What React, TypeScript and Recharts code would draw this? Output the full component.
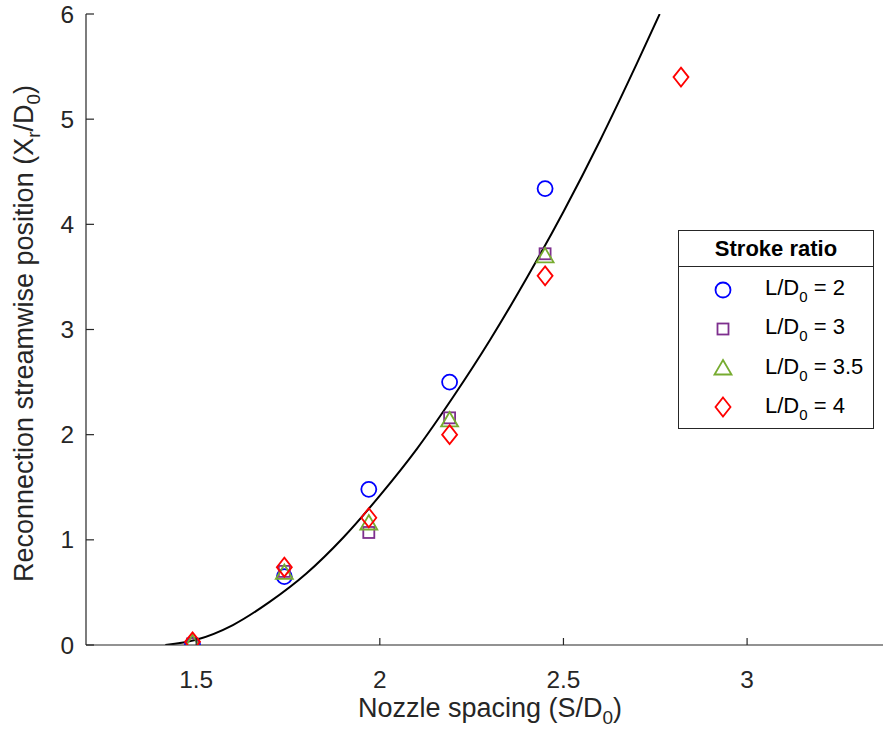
import { ComposedChart, Scatter, Line, XAxis, YAxis, Label } from "recharts"

const FONT = '"Liberation Sans", Arial, Helvetica, sans-serif'
const AXIS = "#262626"
const BLUE = "#0000ff"
const PURPLE = "#7e2f8e"
const GREEN = "#77ac30"
const RED = "#ff0000"

// nozzle spacing S/D0 where the runs were made
const spacing = [1.49, 1.74, 1.97, 2.19, 2.45]
const spacingLong = [1.49, 1.74, 1.97, 2.19, 2.45, 2.82]

// reconnection position Xr/D0 per stroke ratio
const ratio2 = [0.0, 0.65, 1.48, 2.5, 4.34]
const ratio3 = [0.01, 0.7, 1.07, 2.16, 3.72]
const ratio35 = [0.02, 0.69, 1.16, 2.14, 3.7]
const ratio4 = [0.03, 0.74, 1.21, 2.0, 3.51, 5.4]

// fitted curve
const fitX = [1.416, 1.5, 1.6, 1.7, 1.8, 1.9, 2.0, 2.1, 2.2, 2.3, 2.4, 2.5, 2.6, 2.7, 2.762]
const fitY = [0, 0.05, 0.19, 0.41, 0.68, 1.02, 1.42, 1.86, 2.36, 2.9, 3.49, 4.12, 4.8, 5.53, 6.0]

const xTicks = [1.5, 2, 2.5, 3]
const yTicks = [0, 1, 2, 3, 4, 5, 6]

const X_MARGIN = 26
const Y_MARGIN = 12
const TICK_LEN = 7

const toPoints = (xs: number[], ys: number[]) => ys.map((y, i) => ({ x: xs[i], y }))

const Circle = ({ cx, cy }: any) => (
  <circle cx={cx} cy={cy} r={7.5} fill="none" stroke={BLUE} strokeWidth={1.8} />
)
const Square = ({ cx, cy }: any) => (
  <rect x={cx - 5.5} y={cy - 5.5} width={11} height={11} fill="none" stroke={PURPLE} strokeWidth={1.8} />
)
const Triangle = ({ cx, cy }: any) => (
  <path d={`M${cx},${cy - 8} L${cx + 8.5},${cy + 6.5} L${cx - 8.5},${cy + 6.5} Z`} fill="none" stroke={GREEN} strokeWidth={1.8} />
)
const Diamond = ({ cx, cy }: any) => (
  <path d={`M${cx},${cy - 9.5} L${cx + 7.5},${cy} L${cx},${cy + 9.5} L${cx - 7.5},${cy} Z`} fill="none" stroke={RED} strokeWidth={1.8} />
)

const legendItems = [
  { label: "2", Icon: Circle },
  { label: "3", Icon: Square },
  { label: "3.5", Icon: Triangle },
  { label: "4", Icon: Diamond },
]

// MATLAB style ticks: short marks pointing into the plot
const XTick = ({ x, y, payload }: any) => {
  const axisY = y - X_MARGIN
  return (
    <g>
      <line x1={x} x2={x} y1={axisY} y2={axisY - TICK_LEN} stroke={AXIS} strokeWidth={1.2} />
      <text x={x} y={y} dy="0.71em" textAnchor="middle" fontSize={24.4} fill={AXIS} fontFamily={FONT}>
        {payload.value}
      </text>
    </g>
  )
}

const YTick = ({ x, y, payload }: any) => {
  const axisX = x + Y_MARGIN
  return (
    <g>
      <line x1={axisX} x2={axisX + TICK_LEN + 1} y1={y} y2={y} stroke={AXIS} strokeWidth={1.2} />
      <text x={x} y={y} dy="0.355em" textAnchor="end" fontSize={24.4} fill={AXIS} fontFamily={FONT}>
        {payload.value}
      </text>
    </g>
  )
}

const XLabel = ({ viewBox }: any) => (
  <text x={viewBox.x + viewBox.width / 2} y={viewBox.y + 72} textAnchor="middle" fontSize={27} fill={AXIS} fontFamily={FONT}>
    Nozzle spacing (S/D
    <tspan dy={7} fontSize={19}>0</tspan>
    <tspan dy={-7}>)</tspan>
  </text>
)

const YLabel = ({ viewBox }: any) => {
  const x = 33
  const y = viewBox.y + viewBox.height / 2 + 4
  return (
    <text x={x} y={y} transform={`rotate(-90, ${x}, ${y})`} textAnchor="middle" fontSize={27} fill={AXIS} fontFamily={FONT}>
      Reconnection streamwise position (X
      <tspan dy={7} fontSize={19}>r</tspan>
      <tspan dy={-7}>/D</tspan>
      <tspan dy={7} fontSize={19}>0</tspan>
      <tspan dy={-7}>)</tspan>
    </text>
  )
}

export default function App() {
  return (
    <div style={{ position: "absolute", left: 0, top: 0, width: 883, height: 732, overflow: "hidden", background: "#fff", fontFamily: FONT }}>
      <ComposedChart width={894} height={732} margin={{ top: 14, right: 0, bottom: 0, left: 0 }} style={{ fontFamily: FONT }}>
        <XAxis
          type="number"
          dataKey="x"
          domain={[1.2, 3.4]}
          ticks={xTicks}
          allowDataOverflow
          height={87}
          stroke={AXIS}
          strokeWidth={1.2}
          tickLine={false}
          tickSize={0}
          tickMargin={X_MARGIN}
          tick={<XTick />}
        >
          <Label content={<XLabel />} />
        </XAxis>
        <YAxis
          type="number"
          dataKey="y"
          domain={[0, 6]}
          ticks={yTicks}
          allowDataOverflow
          width={86}
          stroke={AXIS}
          strokeWidth={1.2}
          tickLine={false}
          tickSize={0}
          tickMargin={Y_MARGIN}
          tick={<YTick />}
        >
          <Label content={<YLabel />} />
        </YAxis>
        <Scatter data={toPoints(spacing, ratio2)} shape={<Circle />} isAnimationActive={false} />
        <Scatter data={toPoints(spacing, ratio3)} shape={<Square />} isAnimationActive={false} />
        <Scatter data={toPoints(spacing, ratio35)} shape={<Triangle />} isAnimationActive={false} />
        <Scatter data={toPoints(spacingLong, ratio4)} shape={<Diamond />} isAnimationActive={false} />
        <Line
          data={toPoints(fitX, fitY)}
          dataKey="y"
          type="monotone"
          stroke="#000"
          strokeWidth={2}
          dot={false}
          activeDot={false}
          isAnimationActive={false}
        />
      </ComposedChart>

      <div
        style={{
          position: "absolute",
          left: 678,
          top: 230,
          width: 196,
          height: 199,
          boxSizing: "border-box",
          border: `1px solid ${AXIS}`,
          background: "#fff",
          color: "#000",
        }}
      >
        <div
          style={{
            height: 35,
            lineHeight: "35px",
            borderBottom: `1px solid ${AXIS}`,
            textAlign: "center",
            fontWeight: "bold",
            fontSize: 22,
          }}
        >
          Stroke ratio
        </div>
        <div style={{ paddingTop: 3 }}>
          {legendItems.map(({ label, Icon }) => (
            <div key={label} style={{ position: "relative", height: 39.3, fontSize: 22 }}>
              <svg width={30} height={30} style={{ position: "absolute", left: 29, top: 4.6 }}>
                <Icon cx={15} cy={15} />
              </svg>
              <span style={{ position: "absolute", left: 86, top: 5, whiteSpace: "nowrap", lineHeight: "26px" }}>
                L/D
                <span style={{ fontSize: 15, position: "relative", top: 7 }}>0</span> = {label}
              </span>
            </div>
          ))}
        </div>
      </div>
    </div>
  )
}
